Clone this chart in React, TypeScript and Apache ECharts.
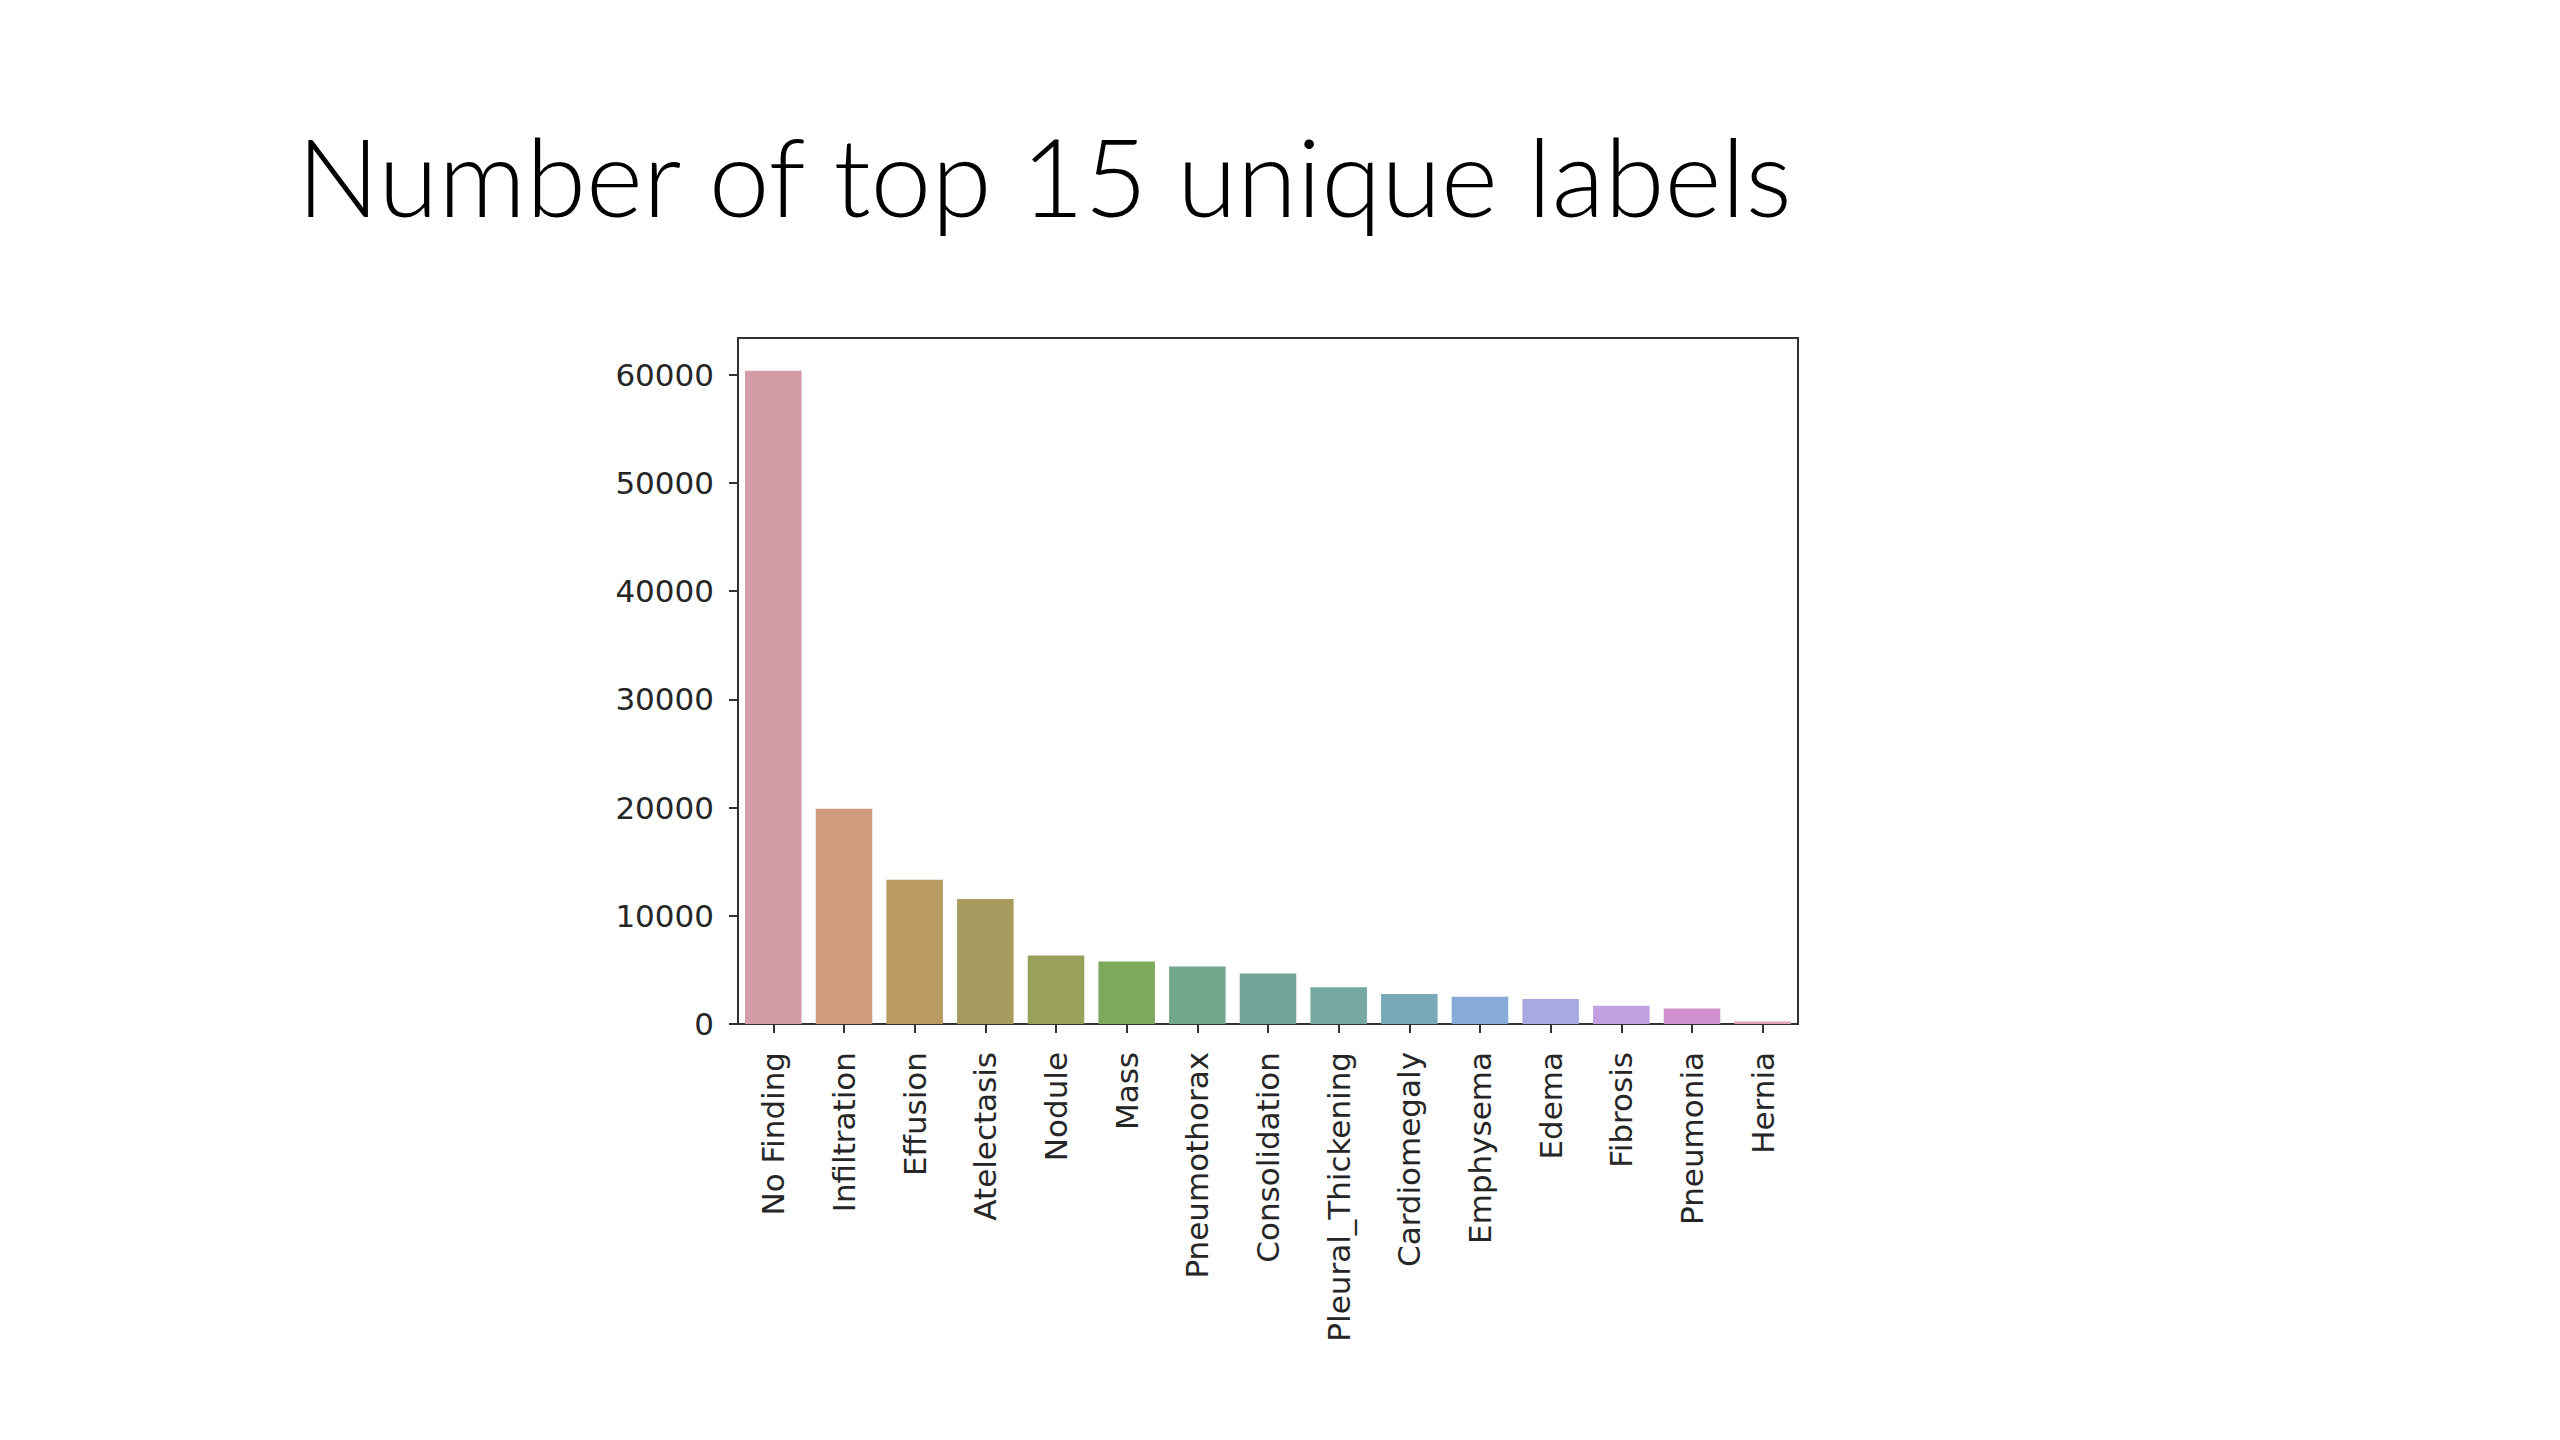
import React, { useEffect, useRef } from "react";
import * as echarts from "echarts";

const categories = [
  "No Finding",
  "Infiltration",
  "Effusion",
  "Atelectasis",
  "Nodule",
  "Mass",
  "Pneumothorax",
  "Consolidation",
  "Pleural_Thickening",
  "Cardiomegaly",
  "Emphysema",
  "Edema",
  "Fibrosis",
  "Pneumonia",
  "Hernia",
];

const counts = [60361, 19894, 13317, 11559, 6331, 5782, 5302, 4667, 3385, 2776, 2516, 2303, 1686, 1431, 227];

const barColors = [
  "#d39ca6",
  "#d09b7c",
  "#b99a62",
  "#a69a5e",
  "#98a05c",
  "#7ea95c",
  "#73a68a",
  "#73a698",
  "#77a8a2",
  "#79a8b9",
  "#87abd8",
  "#aaa8e0",
  "#c0a0e0",
  "#d090d0",
  "#e0a0b8",
];

const yTicks = [0, 10000, 20000, 30000, 40000, 50000, 60000];

const titleText = "Number of top 15 unique labels";

export default function App() {
  const ref = useRef<HTMLDivElement>(null);

  useEffect(() => {
    if (!ref.current) return;
    const chart = echarts.init(ref.current, null, { renderer: "svg" });
    const yMax = Math.max(...counts) * 1.05;
    const axisColor = "#333333";
    const textColor = "#262626";
    chart.setOption({
      animation: false,
      backgroundColor: "#ffffff",
      title: {
        text: titleText,
        left: 292,
        top: 115,
        textStyle: {
          fontFamily: "Lato",
          fontWeight: 300,
          fontSize: 109,
          color: "#000000",
        },
      },
      grid: {
        left: 738,
        top: 338,
        width: 1060,
        height: 686,
        show: true,
        borderColor: axisColor,
        borderWidth: 2,
        backgroundColor: "transparent",
      },
      xAxis: {
        type: "category",
        data: categories,
        boundaryGap: true,
        axisLine: { show: true, lineStyle: { color: axisColor, width: 2 } },
        axisTick: {
          show: true,
          alignWithLabel: true,
          length: 9,
          lineStyle: { color: axisColor, width: 2 },
        },
        axisLabel: {
          rotate: 90,
          interval: 0,
          margin: 28,
          fontFamily: "DejaVu Sans",
          fontSize: 31,
          color: textColor,
        },
        splitLine: { show: false },
      },
      yAxis: {
        type: "value",
        min: 0,
        max: yMax,
        interval: 10000,
        axisLine: { show: true, lineStyle: { color: axisColor, width: 2 } },
        axisTick: {
          show: true,
          length: 9,
          lineStyle: { color: axisColor, width: 2 },
          customValues: yTicks,
        },
        axisLabel: {
          margin: 24,
          fontFamily: "DejaVu Sans",
          fontSize: 31,
          color: textColor,
          customValues: yTicks,
          formatter: (v: number) => String(Math.round(v)),
        },
        splitLine: { show: false },
      },
      series: [
        {
          type: "bar",
          barCategoryGap: "20%",
          data: counts.map((v, i) => ({ value: v, itemStyle: { color: barColors[i] } })),
        },
      ],
    });
    return () => chart.dispose();
  }, []);

  return (
    <div
      ref={ref}
      style={{ position: "absolute", left: 0, top: 0, width: 2560, height: 1440, background: "#fff" }}
    />
  );
}
